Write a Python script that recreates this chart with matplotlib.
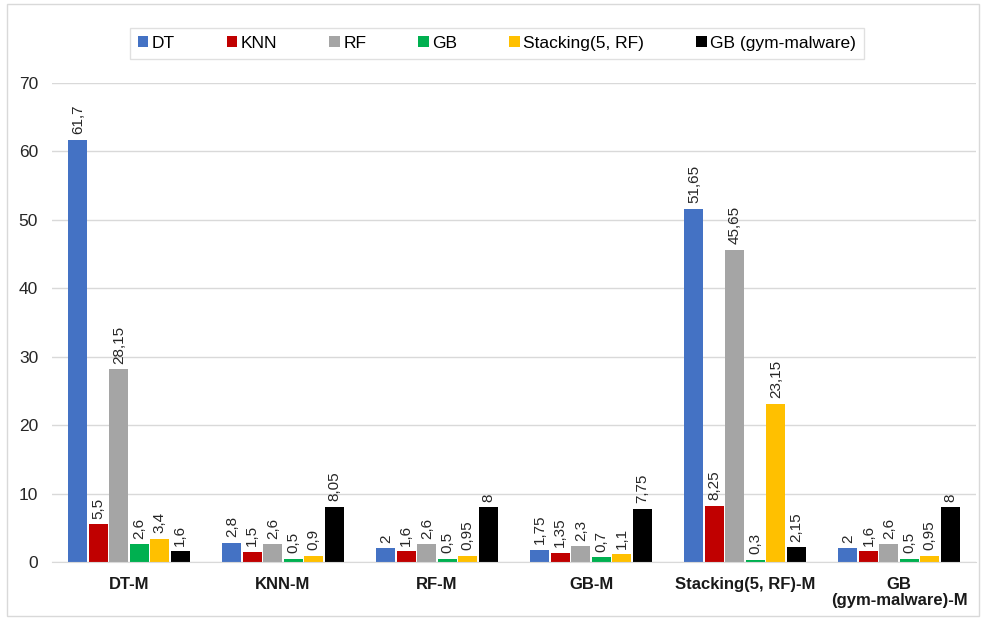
import matplotlib
matplotlib.use("Agg")
import matplotlib.pyplot as plt
from matplotlib.patches import Rectangle
import numpy as np

groups = ["DT-M", "KNN-M", "RF-M", "GB-M", "Stacking(5, RF)-M", "GB\n(gym-malware)-M"]
series_names = ["DT", "KNN", "RF", "GB", "Stacking(5, RF)", "GB (gym-malware)"]
colors = ["#4472C4", "#C00000", "#A5A5A5", "#00B050", "#FFC000", "#000000"]

dt = [61.7, 2.8, 2.0, 1.75, 51.65, 2.0]
knn = [5.5, 1.5, 1.6, 1.35, 8.25, 1.6]
rf = [28.15, 2.6, 2.6, 2.3, 45.65, 2.6]
gb = [2.6, 0.5, 0.5, 0.7, 0.3, 0.5]
stacking = [3.4, 0.9, 0.95, 1.1, 23.15, 0.95]
gb_gym = [1.6, 8.05, 8.0, 7.75, 2.15, 8.0]

all_series = [dt, knn, rf, gb, stacking, gb_gym]

plt.rcParams['font.family'] = ['Liberation Sans', 'DejaVu Sans']

fig = plt.figure(figsize=(9.82, 6.18), dpi=100)
ax = fig.add_axes([0.053, 0.0906, 0.941, 0.7751])

x = np.arange(len(groups))
slot = 0.133
width = 0.124
for i, vals in enumerate(all_series):
    pos = x + (i - 2.5) * slot
    bars = ax.bar(pos, vals, width, color=colors[i], label=series_names[i], zorder=3)
    for b, v in zip(bars, vals):
        txt = ("%g" % v).replace(".", ",")
        ax.annotate(txt, (b.get_x() + b.get_width() / 2, v), xytext=(0, 4),
                    textcoords="offset points", rotation=90, ha="center", va="bottom",
                    fontsize=11, color="#262626")

ax.set_xlim(-0.5, 5.5)
ax.set_ylim(0, 70)
ax.set_yticks(range(0, 71, 10))
ax.set_xticks(x)
ax.set_xticklabels(groups, fontweight="bold", fontsize=12, color="#1a1a1a",
                   linespacing=1.1)
ax.tick_params(axis="y", labelsize=12.5, length=0, pad=10, colors="#262626")
ax.tick_params(axis="x", length=0, pad=11)
ax.grid(axis="y", color="#D9D9D9", linewidth=1, zorder=0)
for s in ["top", "right", "left"]:
    ax.spines[s].set_visible(False)
ax.spines["bottom"].set_color("#D9D9D9")
ax.spines["bottom"].set_zorder(4)

leg = fig.legend(loc="center", bbox_to_anchor=(0.506, 0.93), ncol=6, fontsize=12.5,
                 frameon=True, fancybox=False, edgecolor="#D9D9D9",
                 handlelength=0.6, handleheight=0.6, handletextpad=0.2,
                 columnspacing=3.0, borderpad=0.45, borderaxespad=0)
leg.get_frame().set_linewidth(1)

fig.patches.append(Rectangle((0.007, 0.003), 0.99, 0.99, transform=fig.transFigure,
                             fill=False, edgecolor="#D9D9D9", linewidth=1))

fig.savefig("out.png", dpi=100)
